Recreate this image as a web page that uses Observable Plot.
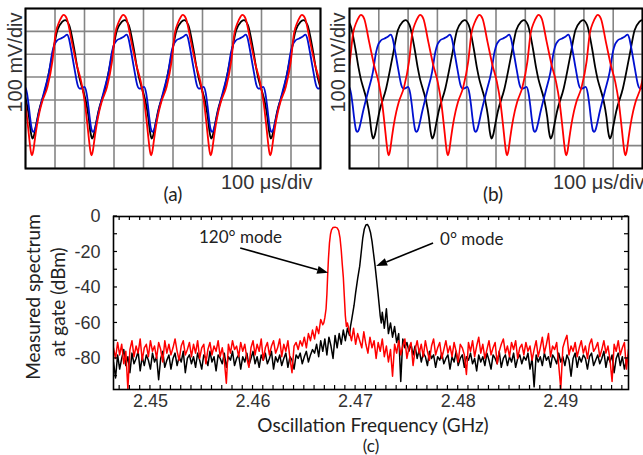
<!DOCTYPE html>
<html><head><meta charset="utf-8">
<script src="https://cdn.jsdelivr.net/npm/d3@7"></script>
<script src="https://cdn.jsdelivr.net/npm/@observablehq/plot@0.6"></script>
<style>
body{margin:0;background:#fff}
#wrap{position:relative;width:643px;height:455px;overflow:hidden;background:#fff}
#wrap > svg{position:absolute;overflow:visible}
</style></head><body><div id="wrap"></div>
<script>
// ---------- oscilloscope panels (a), (b): divisions ----------
const gridX = [0,1,2,3,4,5,6,7,8,9,10];
const gridY = [0,1,2,3,4,5,6,7];
const period = 2.02; // divisions per oscillation period
// one period of each trace, [time from trough (div), level (div)]
const redShape = [[0,0.58],[0.04,0.75],[0.1,1.3],[0.17,1.9],[0.26,2.5],[0.34,2.9],[0.52,3.55],[0.69,4.66],[0.8,5.9],[0.92,6.41],[1.0,6.62],[1.07,6.72],[1.18,6.56],[1.35,5.54],[1.52,4.52],[1.67,3.79],[1.79,2.9],[1.88,1.9],[1.95,1.05],[1.98,0.75]];
const blackShape = [[0,1.31],[0.05,1.45],[0.12,1.9],[0.21,2.48],[0.44,3.5],[0.67,4.96],[0.84,6.05],[1.0,6.41],[1.1,6.49],[1.24,6.27],[1.41,5.25],[1.52,4.4],[1.6,3.9],[1.7,3.45],[1.81,2.92],[1.9,2.25],[1.96,1.6],[1.99,1.4]];
const blueShape = [[0,1.6],[0.05,1.7],[0.1,1.95],[0.19,2.48],[0.36,3.35],[0.53,4.23],[0.64,5.1],[0.72,5.45],[0.8,5.6],[0.93,5.69],[1.05,5.78],[1.14,5.86],[1.2,5.7],[1.27,5.25],[1.39,4.37],[1.5,3.64],[1.56,3.5],[1.65,3.52],[1.73,3.57],[1.8,3.3],[1.86,2.75],[1.91,2.19],[1.96,1.75],[1.99,1.63]];
// first trough position (div) of each trace in each panel
const troughA = {red: 0.22, black: 0.24, blue: 0.27};
const troughB = {red: 1.34, black: 0.81, blue: 0.27};
const scopeYLabel = "100 mV/div";
const scopeXLabel = "100 \u03bcs/div";

// ---------- spectrum panel (c) ----------
const freqStart = 2.4464, freqStep = 0.0002;
const redNoise = [
-74,-80,-71,-78,-72,-83,-76,-97,-75,-70,
-79,-73,-77,-69,-81,-74,-72,-79,-70,-76,
-73,-80,-71,-75,-82,-70,-77,-72,-78,-74,
-69,-76,-81,-73,-70,-78,-75,-71,-79,-72,
-77,-70,-80,-74,-72,-83,-75,-71,-78,-73,
-76,-70,-79,-74,-81,-94,-72,-77,-70,-75,
-73,-79,-71,-76,-72,-80,-85,-74,-70,-78,
-72,-76,-69,-81,-74,-71,-78,-73,-70,-77,
-74,-69,-79,-72,-76,-70,-80,-88,-73,-71,
-75,-70,-73,-68,-74,-66,-70,-64,-69,-62,
-66,-58,-61,-56,-50,-40,-30,-20,-10,-7,
-6,-8,-20,-40,-60,-65,-70,-63,-72,-66,
-70,-74,-65,-72,-77,-68,-74,-70,-80,-71,
-76,-69,-79,-73,-82,-75,-90,-72,-77,-70,
-78,-73,-69,-80,-74,-71,-84,-75,-70,-77,
-72,-79,-70,-76,-81,-73,-69,-78,-74,-71,
-80,-75,-70,-77,-73,-79,-71,-76,-82,-72,
-74,-78,-89,-71,-76,-70,-79,-73,-68,-77,
-72,-80,-75,-70,-78,-74,-71,-83,-76,-72,
-69,-77,-73,-79,-71,-75,-70,-80,-74,-72,
-78,-71,-76,-73,-81,-75,-70,-79,-74,-68,
-77,-72,-66,-79,-73,-75,-71,-84,-97,-74,
-70,-67,-78,-73,-76,-71,-79,-74,-70,-77,
-73,-80,-72,-69,-76,-74,-71,-79,-75,-70,
-77,-73,-81,-93,-72,-76,-70,-78,-74,-71,
-86,-75];
const blackNoise = [
-82,-91,-78,-86,-80,-75,-84,-79,-88,-77,
-83,-80,-76,-87,-79,-84,-78,-81,-86,-77,
-82,-79,-92,-80,-76,-85,-81,-78,-86,-80,
-77,-84,-79,-82,-76,-88,-80,-78,-83,-79,
-85,-77,-81,-86,-78,-80,-84,-76,-82,-79,
-87,-78,-80,-83,-77,-85,-79,-81,-76,-84,
-80,-78,-86,-79,-82,-77,-84,-80,-76,-83,
-79,-85,-78,-81,-77,-83,-80,-76,-86,-79,
-82,-78,-84,-80,-77,-85,-79,-81,-86,-78,
-80,-77,-83,-79,-76,-82,-78,-75,-77,-72,
-79,-70,-76,-69,-78,-68,-73,-80,-67,-74,
-66,-72,-64,-70,-63,-67,-50,-40,-30,-20,
-10,-5,-5,-10,-20,-30,-40,-50,-58,-60,
-58,-54,-63,-52,-66,-60,-68,-62,-71,-66,
-93,-69,-74,-71,-76,-72,-78,-73,-80,-75,
-82,-77,-79,-84,-76,-80,-78,-85,-79,-81,
-77,-83,-80,-78,-86,-79,-82,-76,-84,-80,
-78,-85,-79,-81,-77,-83,-80,-87,-78,-82,
-79,-84,-77,-81,-86,-78,-80,-83,-76,-85,
-80,-78,-84,-79,-82,-77,-85,-80,-78,-83,
-79,-81,-77,-86,-80,-96,-78,-82,-79,-84,
-77,-81,-79,-85,-78,-80,-83,-77,-82,-79,
-84,-78,-81,-90,-80,-77,-85,-79,-82,-78,
-80,-86,-79,-77,-84,-81,-78,-83,-80,-76,
-85,-79,-82,-78,-88,-80,-77,-84,-79,-86,
-81,-78];
const redPeakFreq = [2.46690,2.46700,2.46712,2.46720,2.46727,2.46735,2.46745,2.46755,2.46765,2.46780,2.46800,2.46820,2.46835,2.46848,2.46860,2.46870,2.46880,2.46890,2.46900,2.46910];
const redPeakDb   = [-60,-57,-52,-44,-34,-24,-15,-10,-7.5,-6.2,-6,-6.4,-8,-12,-19,-27,-34,-45,-56,-62];
const blackPeakFreq = [2.46950,2.46965,2.46985,2.47000,2.47020,2.47040,2.47055,2.47070,2.47085,2.47100,2.47115,2.47130,2.47145,2.47160,2.47175,2.47190,2.47205,2.47218,2.47230,2.47240,2.47250];
const blackPeakDb   = [-62,-57,-50,-43,-35,-28,-20,-12,-7,-4.8,-4.5,-6,-9,-14,-21,-28,-36,-43,-50,-56,-60];
const freqTickLabels = [2.45, 2.46, 2.47, 2.48, 2.49];
const dbTickLabels = [0, -20, -40, -60, -80];
const freqMinorTicks = d3.range(2447, 2497).map(d => d / 1000);
const dbMinorTicks = [0,-10,-20,-30,-40,-50,-60,-70,-80,-90];
const annotations = [
  {label: "120\u00b0 mode", x: 2.45878, y: -11.8, x1: 2.4588, y1: -18.0, x2: 2.46737, y2: -32.0},
  {label: "0\u00b0 mode", x: 2.48132, y: -13.0, x1: 2.47760, y1: -15.2, x2: 2.47205, y2: -28.2}
];

// ---------- helpers ----------
function wave(shape, first) {
  const out = [];
  for (let k = -1; k <= 5; k++) for (const [t, v] of shape) out.push({t: first + k * period + t, v});
  return out;
}
function spectrum(noise, pf, pd) {
  const lo = pf[0], hi = pf[pf.length - 1];
  const pts = noise.map((v, i) => ({f: freqStart + i * freqStep, db: v}))
    .filter(d => d.f < lo - 1e-9 || d.f > hi + 1e-9);
  pf.forEach((f, i) => pts.push({f, db: pd[i]}));
  return pts.sort((a, b) => a.f - b.f);
}
const sans = "'Liberation Sans', Arial, sans-serif";
const human = "Lato, 'Open Sans', sans-serif";
const wrap = document.getElementById("wrap");

function scope(trough, o) {
  const svg = Plot.plot({
    width: o.width, height: 200,
    marginLeft: o.ml, marginRight: o.mr, marginTop: 8, marginBottom: 32,
    x: {domain: [0, 10], axis: null},
    y: {domain: [0, 7], axis: null},
    style: {background: "transparent", color: "#333"},
    marks: [
      Plot.ruleX(gridX, {stroke: "#858585", strokeWidth: 1.6}),
      Plot.ruleY(gridY, {stroke: "#858585", strokeWidth: 1.6}),
      Plot.line(wave(blackShape, trough.black), {x: "t", y: "v", stroke: "#000", strokeWidth: 1.8, curve: "monotone-x", clip: true}),
      Plot.line(wave(blueShape, trough.blue), {x: "t", y: "v", stroke: "#0010d0", strokeWidth: 1.8, curve: "monotone-x", clip: true}),
      Plot.line(wave(redShape, trough.red), {x: "t", y: "v", stroke: "#ff0000", strokeWidth: 1.8, curve: "monotone-x", clip: true}),
      Plot.frame({stroke: "#000", strokeWidth: 2}),
      Plot.text([scopeYLabel], {text: d => d, frameAnchor: "top-left", rotate: -90, dx: o.ydx, dy: 54, fontSize: 20, fontFamily: sans, fill: "#333", textAnchor: "middle", lineAnchor: "middle"}),
      Plot.text([scopeXLabel], {text: d => d, frameAnchor: "bottom-right", dx: o.xdx, dy: 14, fontSize: 20, fontFamily: sans, fill: "#333", textAnchor: "end", lineAnchor: "middle"}),
      Plot.text([o.tag], {text: d => d, frameAnchor: "bottom", dx: o.tagdx, dy: 26, fontSize: 19, fontFamily: human, fill: "#222", textAnchor: "middle", lineAnchor: "middle"})
    ]
  });
  svg.style.left = o.left + "px"; svg.style.top = "0px";
  wrap.appendChild(svg);
}
scope(troughA, {width: 330, ml: 25, mr: 10, left: 0, ydx: -10, xdx: -8, tag: "(a)", tagdx: 0});
scope(troughB, {width: 313, ml: 19, mr: 1, left: 330, ydx: -11, xdx: 2, tag: "(b)", tagdx: -3});

// custom mark: inward ticks on all four sides, placed with the plot's scales
function innerTicks(xt, yt, len) {
  return (index, scales, values, dim) => {
    const {x, y} = scales;
    const top = dim.marginTop, bottom = dim.height - dim.marginBottom;
    const left = dim.marginLeft, right = dim.width - dim.marginRight;
    const g = d3.create("svg:g").attr("stroke", "#000").attr("stroke-width", 1.2);
    for (const v of xt) {
      const p = x(v);
      g.append("line").attr("x1", p).attr("x2", p).attr("y1", bottom).attr("y2", bottom - len);
      g.append("line").attr("x1", p).attr("x2", p).attr("y1", top).attr("y2", top + len);
    }
    for (const v of yt) {
      const p = y(v);
      g.append("line").attr("y1", p).attr("y2", p).attr("x1", left).attr("x2", left + len);
      g.append("line").attr("y1", p).attr("y2", p).attr("x1", right).attr("x2", right - len);
    }
    return g.node();
  };
}
// custom mark: arrows with filled heads
function arrows(data) {
  return (index, scales) => {
    const {x, y} = scales;
    const g = d3.create("svg:g");
    for (const d of data) {
      const ax = x(d.x1), ay = y(d.y1), bx = x(d.x2), by = y(d.y2);
      const L = Math.hypot(bx - ax, by - ay), ux = (bx - ax) / L, uy = (by - ay) / L;
      const hl = 11, hw = 4;
      const cx = bx - ux * hl, cy = by - uy * hl;
      g.append("line").attr("x1", ax).attr("y1", ay).attr("x2", cx).attr("y2", cy).attr("stroke", "#000").attr("stroke-width", 1.6);
      g.append("polygon").attr("fill", "#000").attr("points",
        `${bx},${by} ${cx - uy * hw},${cy + ux * hw} ${cx + uy * hw},${cy - ux * hw}`);
    }
    return g.node();
  };
}

const spec = Plot.plot({
  width: 643, height: 255,
  marginLeft: 113, marginRight: 15, marginTop: 16, marginBottom: 66,
  x: {domain: [2.4464, 2.4966]},
  y: {domain: [-97.5, 0]},
  style: {background: "transparent", color: "#333", fontFamily: sans},
  marks: [
    Plot.line(spectrum(blackNoise, blackPeakFreq, blackPeakDb), {x: "f", y: "db", stroke: "#000", strokeWidth: 1.5, clip: true}),
    Plot.line(spectrum(redNoise, redPeakFreq, redPeakDb), {x: "f", y: "db", stroke: "#ff0000", strokeWidth: 1.5, clip: true}),
    Plot.frame({stroke: "#000", strokeWidth: 1.6}),
    innerTicks(freqMinorTicks, dbMinorTicks, 4),
    Plot.axisX(freqTickLabels, {anchor: "bottom", tickSize: 0, tickPadding: 5, fontSize: 18, tickFormat: d => d.toFixed(2), label: null}),
    Plot.axisY(dbTickLabels, {anchor: "left", tickSize: 0, tickPadding: 13, fontSize: 18, tickFormat: d => String(d), label: null}),
    arrows(annotations),
    Plot.text(annotations, {x: "x", y: "y", text: "label", fontSize: 17, fontFamily: human, fill: "#222"}),
    Plot.text(["Measured spectrum"], {text: d => d, frameAnchor: "left", rotate: -90, dx: -80, dy: -6, fontSize: 19, fontFamily: human, fill: "#222", textAnchor: "middle", lineAnchor: "middle"}),
    Plot.text(["at gate (dBm)"], {text: d => d, frameAnchor: "left", rotate: -90, dx: -55, dy: -1, fontSize: 19, fontFamily: human, fill: "#222", textAnchor: "middle", lineAnchor: "middle"}),
    Plot.text(["Oscillation Frequency (GHz)"], {text: d => d, frameAnchor: "bottom", dx: 2, dy: 36, fontSize: 19, fontFamily: human, fill: "#222", textAnchor: "middle", lineAnchor: "middle"}),
    Plot.text(["(c)"], {text: d => d, frameAnchor: "bottom", dx: 0, dy: 57, fontSize: 17, fontFamily: human, fill: "#222", textAnchor: "middle", lineAnchor: "middle"})
  ]
});
spec.style.left = "0px"; spec.style.top = "200px";
wrap.appendChild(spec);
</script></body></html>
